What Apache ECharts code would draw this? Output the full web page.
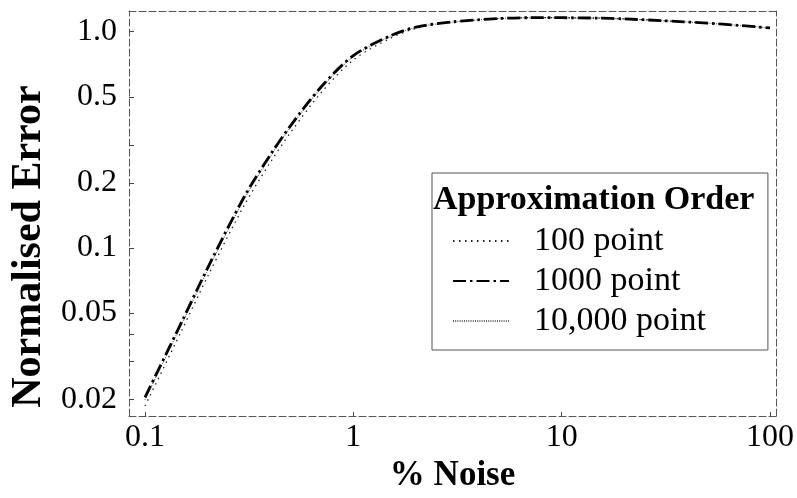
<!DOCTYPE html>
<html>
<head>
<meta charset="utf-8">
<script src="https://cdn.jsdelivr.net/npm/echarts@6/dist/echarts.min.js"></script>
<style>
  html, body { margin: 0; padding: 0; background: #fff; }
  #chart { width: 797px; height: 498px; }
</style>
</head>
<body>
<div id="chart"></div>
<script>
// % noise (x) and normalised error for each approximation order
var noise = [0.1, 0.15, 0.2, 0.3, 0.4, 0.5, 0.7, 1, 1.5, 2, 3, 5, 7, 10, 15, 20, 30, 50, 70, 100]
var err100 = [0.0186, 0.0415, 0.074, 0.158, 0.249, 0.342, 0.522, 0.74, 0.93, 1.035, 1.105, 1.148, 1.16, 1.16, 1.155, 1.145, 1.125, 1.095, 1.07, 1.04]
var err1000 = [0.0204, 0.0455, 0.081, 0.173, 0.27, 0.368, 0.555, 0.775, 0.955, 1.05, 1.11, 1.15, 1.16, 1.16, 1.155, 1.145, 1.125, 1.095, 1.07, 1.04]
var err10000 = [0.0199, 0.0445, 0.079, 0.169, 0.265, 0.362, 0.548, 0.768, 0.95, 1.047, 1.108, 1.15, 1.16, 1.16, 1.155, 1.145, 1.125, 1.095, 1.07, 1.04]
var seriesNames = ['100 point', '1000 point', '10,000 point']
var xTicks = [0.1, 1, 10, 100]
var yTicks = [0.02, 0.05, 0.1, 0.2, 0.5, 1]
var yMinorTicks = [0.02, 0.03, 0.04, 0.05, 0.1, 0.2, 0.3, 0.5, 1]

var serif = '"Liberation Serif", "DejaVu Serif", serif'

function pairs(ys) {
  return noise.map(function (x, i) { return [x, ys[i]] })
}

var frameLine = { show: true, lineStyle: { color: '#555', width: 1, type: [7, 3] } }

var chart = echarts.init(document.getElementById('chart'))
var option = {
  animation: false,
  backgroundColor: '#fff',
  textStyle: { fontFamily: serif, color: '#000' },
  title: {
    text: 'Approximation Order',
    left: 433,
    top: 183,
    padding: 0,
    textStyle: { fontFamily: serif, fontSize: 34, fontWeight: 'bold', color: '#000', lineHeight: 34 }
  },
  grid: { left: 129, right: 19, top: 11, bottom: 76 },
  legend: {
    orient: 'vertical',
    left: 432,
    top: 173,
    padding: [51, 62, 12, 20],
    itemGap: 6,
    itemWidth: 56,
    itemHeight: 10,
    borderColor: '#555',
    borderWidth: 1,
    data: seriesNames,
    itemStyle: { color: 'rgba(0,0,0,0)', borderWidth: 0, opacity: 0 },
    textStyle: { fontFamily: serif, fontSize: 34, color: '#000', lineHeight: 34, padding: [0, 0, 0, 20] }
  },
  xAxis: [{
    type: 'log',
    min: 0.0838,
    max: 107,
    name: '% Noise',
    nameLocation: 'middle',
    nameGap: 31,
    nameTextStyle: { fontFamily: serif, fontSize: 35, fontWeight: 'bold', color: '#000', lineHeight: 35 },
    axisLine: frameLine,
    axisTick: { show: true, inside: true, length: 4, customValues: xTicks, lineStyle: { color: '#444' } },
    axisLabel: {
      margin: 5,
      fontFamily: serif,
      fontSize: 32,
      lineHeight: 32,
      color: '#000',
      customValues: xTicks,
      formatter: function (v) { return String(+v.toPrecision(3)) }
    },
    splitLine: { show: false },
    minorTick: { show: false }
  }, {
    type: 'log',
    position: 'top',
    min: 0.0838,
    max: 107,
    axisLine: frameLine,
    axisTick: { show: false },
    axisLabel: { show: false },
    splitLine: { show: false }
  }],
  yAxis: [{
    type: 'log',
    min: 0.0167,
    max: 1.246,
    name: 'Normalised Error',
    nameLocation: 'middle',
    nameGap: 77,
    nameTextStyle: { fontFamily: serif, fontSize: 42, fontWeight: 'bold', color: '#000', padding: [0, 66, 0, 0] },
    axisLine: frameLine,
    axisTick: { show: true, inside: true, length: 5, customValues: yMinorTicks, lineStyle: { color: '#444' } },
    axisLabel: {
      margin: 12,
      fontFamily: serif,
      fontSize: 32,
      color: '#000',
      customValues: yTicks,
      formatter: function (v) { return v > 0.99 ? '1.0' : String(+v.toPrecision(2)) }
    },
    splitLine: { show: false }
  }, {
    type: 'log',
    position: 'right',
    min: 0.0167,
    max: 1.246,
    axisLine: frameLine,
    axisTick: { show: false },
    axisLabel: { show: false },
    splitLine: { show: false }
  }],
  series: [{
    name: '10,000 point',
    type: 'line',
    smooth: 0.3,
    showSymbol: false,
    symbol: 'none',
    lineStyle: { color: '#666', width: 1.2, type: [1, 1.2] },
    itemStyle: { color: '#666' },
    data: pairs(err10000)
  }, {
    name: '100 point',
    type: 'line',
    smooth: 0.3,
    showSymbol: false,
    symbol: 'none',
    lineStyle: { color: '#222', width: 1.3, type: [1.5, 4.5] },
    itemStyle: { color: '#222' },
    data: pairs(err100)
  }, {
    name: '1000 point',
    type: 'line',
    smooth: 0.3,
    showSymbol: false,
    symbol: 'none',
    lineStyle: { color: '#000', width: 2.8, type: [13, 4, 2.5, 4] },
    itemStyle: { color: '#000' },
    data: pairs(err1000)
  }]
}
chart.setOption(option)
</script>
</body>
</html>
